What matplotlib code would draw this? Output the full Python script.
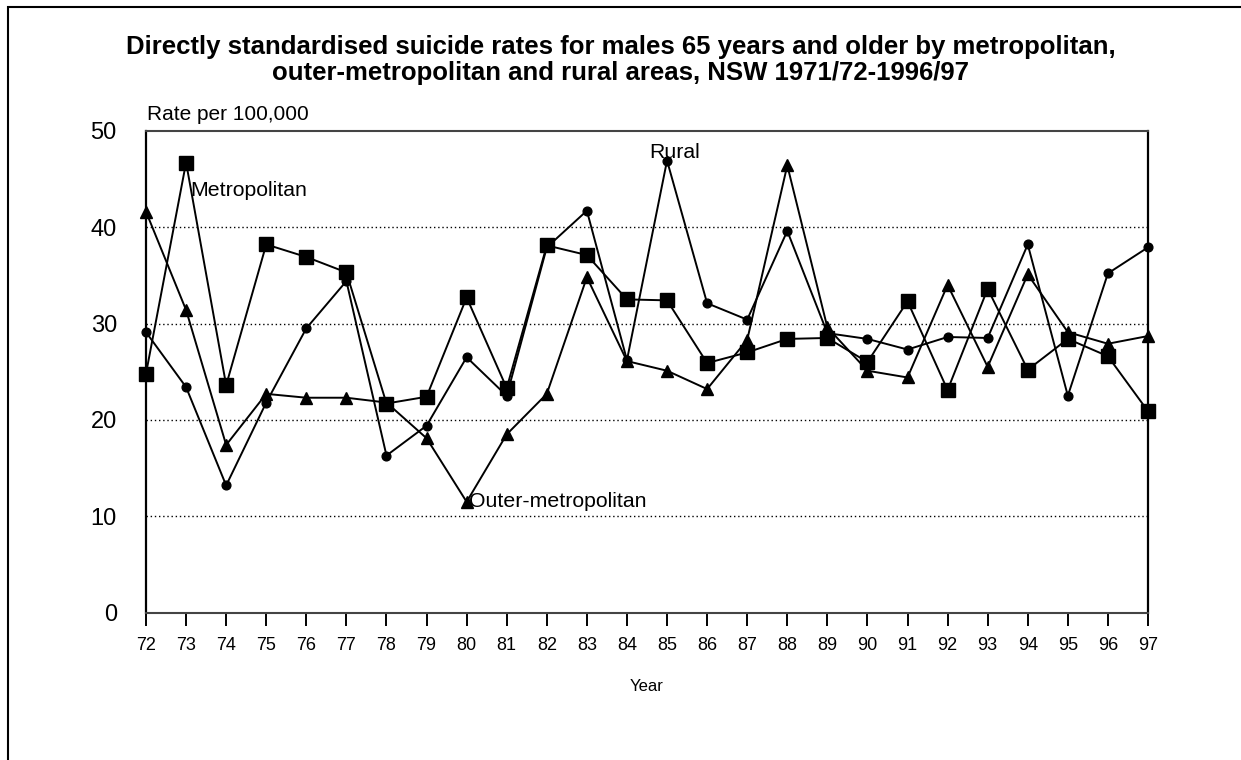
import matplotlib
matplotlib.use("Agg")
import matplotlib.pyplot as plt
from matplotlib.patches import Rectangle

plt.rcParams["font.family"] = ["Liberation Sans", "DejaVu Sans"]

# Financial years 1971/72 .. 1996/97, labelled by the closing year
years = list(range(72, 98))

metropolitan = [24.8, 46.7, 23.6, 38.2, 36.9, 35.3, 21.7, 22.4, 32.7, 23.3,
                38.1, 37.1, 32.5, 32.4, 25.9, 27.0, 28.4, 28.5, 26.0, 32.3,
                23.1, 33.6, 25.2, 28.4, 26.6, 20.9]
outer_metropolitan = [41.6, 31.4, 17.4, 22.7, 22.3, 22.3, 21.8, 18.1, 11.5, 18.5,
                      22.7, 34.8, 26.1, 25.1, 23.2, 28.3, 46.4, 29.6, 25.1, 24.4,
                      34.0, 25.5, 35.1, 29.1, 27.9, 28.7]
rural = [29.1, 23.4, 13.2, 21.8, 29.5, 34.4, 16.3, 19.4, 26.5, 22.5,
         37.9, 41.7, 26.2, 46.9, 32.1, 30.4, 39.6, 29.0, 28.4, 27.3,
         28.6, 28.5, 38.2, 22.5, 35.2, 37.9]

y_ticks = [0, 10, 20, 30, 40, 50]

title = ("Directly standardised suicide rates for males 65 years and older by metropolitan,\n"
         "outer-metropolitan and rural areas, NSW 1971/72-1996/97")

W, H = 1241, 760
fig = plt.figure(figsize=(W / 100, H / 100), dpi=100)

# outer border around the whole chart
fig.patches.append(Rectangle((8 / W, -0.1), 2.0, 1.1 - 7 / H, transform=fig.transFigure,
                             fill=False, edgecolor="black", linewidth=1.5, zorder=0))

ax = fig.add_axes([146 / W, 1 - 612.7 / H, (1148 - 146) / W, (612.7 - 130.7) / H])

line_kw = dict(color="black", linewidth=1.4, clip_on=False, zorder=3)
ax.plot(years, rural, marker="o", markersize=6.3, **line_kw)
ax.plot(years, outer_metropolitan, marker="^", markersize=8.5, **line_kw)
ax.plot(years, metropolitan, marker="s", markersize=9.6, **line_kw)

ax.set_xlim(72, 97)
ax.set_ylim(0, 50)
ax.set_xticks(years)
ax.set_xticklabels([str(y) for y in years], fontsize=13)
ax.set_yticks(y_ticks)
ax.set_yticklabels([str(v) for v in y_ticks], fontsize=17)

for v in y_ticks[1:-1]:
    ax.axhline(v, color="black", linewidth=1, linestyle=(0, (1, 2)), zorder=1)

ax.tick_params(axis="x", direction="out", length=9.5, width=1.4, pad=8)
ax.tick_params(axis="y", length=0, pad=21)

for side in ("left", "right"):
    ax.spines[side].set_linewidth(1.6)
    ax.spines[side].set_color("black")
for side in ("top", "bottom"):
    ax.spines[side].set_linewidth(1.5)
    ax.spines[side].set_color("#444444")

ax.set_xlabel("Year", fontsize=12, labelpad=18)

ax.text(73.1, 43.8, "Metropolitan", fontsize=15.3, va="center", ha="left")
ax.text(84.55, 47.7, "Rural", fontsize=15.3, va="center", ha="left")
ax.text(80.06, 11.5, "Outer-metropolitan", fontsize=15.3, va="center", ha="left")

fig.text(147 / W, 1 - 115 / H, "Rate per 100,000", fontsize=15, va="center", ha="left")
fig.text(0.5, 1 - 60 / H, title, fontsize=18.5, fontweight="bold",
         ha="center", va="center", linespacing=1.1)

fig.savefig("out.png", dpi=100)
